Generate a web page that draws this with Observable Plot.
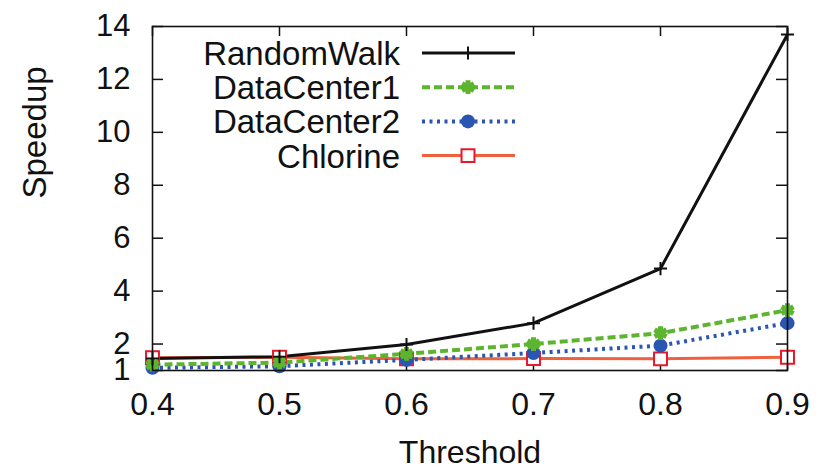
<!DOCTYPE html>
<html>
<head>
<meta charset="utf-8">
<script src="https://cdn.jsdelivr.net/npm/d3@7"></script>
<script src="https://cdn.jsdelivr.net/npm/@observablehq/plot@0.6"></script>
<style>
  html, body { margin: 0; padding: 0; background: #fff; }
  svg { display: block; }
</style>
</head>
<body>
<div id="chart"></div>
<script>
const thresholds = [0.4, 0.5, 0.6, 0.7, 0.8, 0.9];
const randomWalk = [1.45, 1.52, 1.98, 2.79, 4.85, 13.7];
const dataCenter1 = [1.22, 1.3, 1.63, 2.0, 2.41, 3.28];
const dataCenter2 = [1.1, 1.16, 1.4, 1.66, 1.94, 2.79];
const chlorine = [1.48, 1.5, 1.44, 1.45, 1.44, 1.5];
const seriesNames = ["RandomWalk", "DataCenter1", "DataCenter2", "Chlorine"];
const xTicks = [0.4, 0.5, 0.6, 0.7, 0.8, 0.9];
const yTicks = [1, 2, 4, 6, 8, 10, 12, 14];

const W = 819, H = 471;
const mL = 152, mR = 32, mT = 26, mB = 101;
const plotW = W - mL - mR, plotH = H - mT - mB;
const font = "'Liberation Sans', Arial, Helvetica, sans-serif";

const styles = {
  RandomWalk: {stroke: "#111111", width: 3, dash: null, symbol: "plus", r: 4.3, mfill: "none", mstroke: "#111111", msw: 2},
  DataCenter1: {stroke: "#5db52f", width: 4, dash: "8,4", symbol: "asterisk", r: 6.5, mfill: "none", mstroke: "#5db52f", msw: 5},
  DataCenter2: {stroke: "#2a55b0", width: 4, dash: "3,4.5", symbol: "circle", r: 7, mfill: "#2a55b0", mstroke: "none", msw: 0},
  Chlorine: {stroke: "#ef603e", width: 3, dash: null, symbol: "square", r: 7.3, mfill: "white", mstroke: "#e8182c", msw: 2}
};
const values = [randomWalk, dataCenter1, dataCenter2, chlorine];
const rows = [];
seriesNames.forEach((s, i) => thresholds.forEach((t, j) => rows.push({series: s, x: t, y: values[i][j]})));

const marks = [];
for (const s of seriesNames.slice().reverse()) {
  const st = styles[s];
  marks.push(Plot.line(rows.filter(d => d.series === s), {
    x: "x", y: "y", stroke: st.stroke, strokeWidth: st.width,
    strokeDasharray: st.dash, strokeLinecap: "butt"
  }));
}
for (const s of seriesNames.slice().reverse()) {
  const st = styles[s];
  marks.push(Plot.dot(rows.filter(d => d.series === s), {
    x: "x", y: "y", symbol: st.symbol, r: st.r,
    fill: st.mfill, stroke: st.mstroke, strokeWidth: st.msw
  }));
}

const chart = Plot.plot({
  width: W, height: H,
  marginLeft: mL, marginRight: mR, marginTop: mT, marginBottom: mB,
  style: {fontFamily: font, background: "white", color: "#111"},
  x: {domain: [0.4, 0.9], label: null},
  y: {domain: [1, 14], label: null},
  marks: [
    Plot.axisX({ticks: xTicks, tickSize: 0, tickPadding: 22, fontSize: 32, tickFormat: d => d.toFixed(1), label: null}),
    Plot.axisY({ticks: yTicks, tickSize: 0, tickPadding: 22, fontSize: 31, label: null}),
    Plot.tickX(xTicks, {x: d => d, insetTop: plotH - 10, stroke: "#111", strokeWidth: 1.5}),
    Plot.tickX(xTicks, {x: d => d, insetBottom: plotH - 10, stroke: "#111", strokeWidth: 1.5}),
    Plot.tickY(yTicks, {y: d => d, insetRight: plotW - 11, stroke: "#111", strokeWidth: 1.5}),
    Plot.tickY(yTicks, {y: d => d, insetLeft: plotW - 11, stroke: "#111", strokeWidth: 1.5}),
    ...marks,
    Plot.frame({stroke: "#111", strokeWidth: 1.6}),
    Plot.text(["Threshold"], {frameAnchor: "bottom", text: d => d, lineAnchor: "top", dy: 70, fontSize: 32, fill: "#111"}),
    Plot.text(["Speedup"], {frameAnchor: "left", text: d => d, rotate: -90, dx: -117, fontSize: 33, fill: "#111"})
  ]
});

const svg = d3.select(chart);
const lg = svg.append("g").attr("font-family", font).attr("font-size", 33).attr("fill", "#111");
const symMap = {plus: d3.symbolPlus, asterisk: d3.symbolAsterisk, circle: d3.symbolCircle, square: d3.symbolSquare};
seriesNames.forEach((s, i) => {
  const st = styles[s];
  const base = 65 + i * 34.2;
  const ly = base - 12;
  lg.append("text").attr("x", 400).attr("y", base).attr("text-anchor", "end").text(s);
  lg.append("line").attr("x1", 422).attr("x2", 515).attr("y1", ly).attr("y2", ly)
    .attr("stroke", st.stroke).attr("stroke-width", st.width)
    .attr("stroke-dasharray", st.dash);
  lg.append("path").attr("transform", `translate(468,${ly})`)
    .attr("d", d3.symbol(symMap[st.symbol], Math.PI * st.r * st.r)())
    .attr("fill", st.mfill).attr("stroke", st.mstroke).attr("stroke-width", st.msw);
});

document.getElementById("chart").appendChild(chart);
</script>
</body>
</html>
